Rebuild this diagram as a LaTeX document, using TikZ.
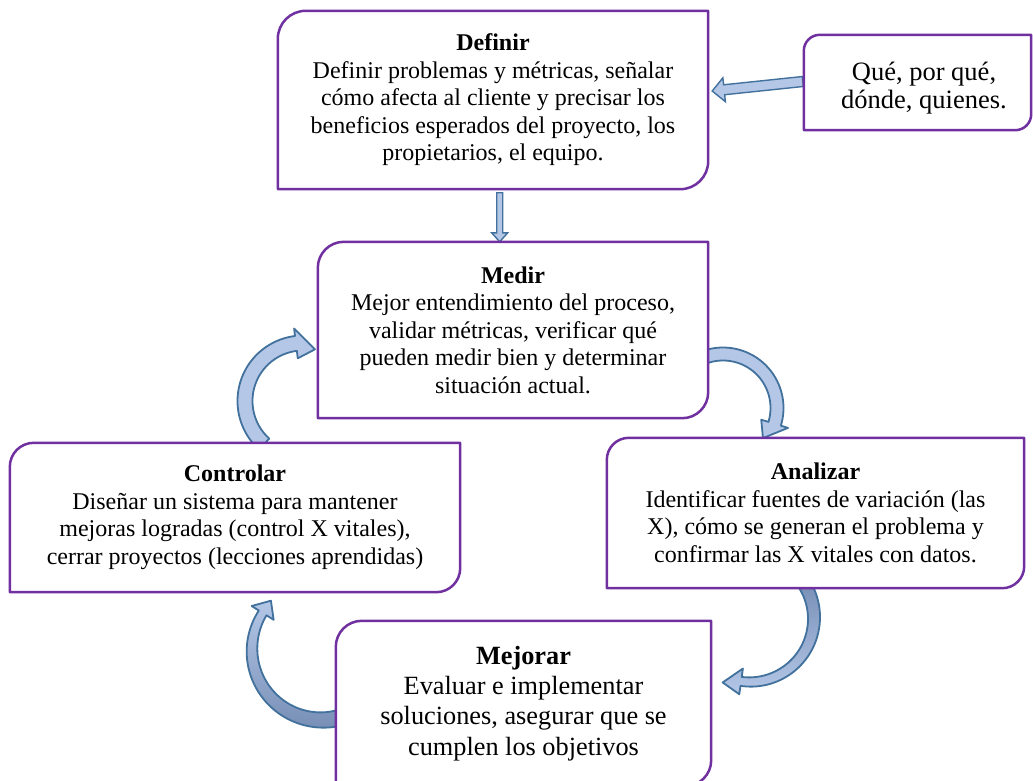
\documentclass[tikz,border=0pt]{standalone}
\usepackage{fontspec}
\setmainfont{Liberation Serif}
\usetikzlibrary{calc}
\definecolor{boxpurple}{RGB}{112,48,160}
\definecolor{arrfill}{RGB}{180,199,231}
\definecolor{arrdark}{RGB}{120,143,182}
\definecolor{arrline}{RGB}{65,113,156}
\pgfdeclarelayer{arrowlayer}
\pgfdeclarelayer{framelayer}
\pgfsetlayers{arrowlayer,framelayer,main}
\tikzset{
  txt/.style={align=center, inner sep=0pt, font=\fontsize{24}{27.5}\selectfont},
  bigtxt/.style={align=center, inner sep=0pt, font=\fontsize{26.3}{30.3}\selectfont},
  boxline/.style={draw=boxpurple, line width=2.5pt, fill=white, line join=round},
  carrow/.style={draw=arrline, fill=arrfill, line width=1.8pt, line join=round},
  sarrow/.style={draw=arrline, fill=arrfill, line width=1.4pt, line join=miter},
}
% frame with rounded top-left and bottom-right corners
\newcommand\dframe[2]{%
  \draw[boxline] (#1.south west) -- ([yshift=-#2pt]#1.north west)
    arc[start angle=180,end angle=90,radius=#2pt] -- (#1.north east)
    -- ([yshift=#2pt]#1.south east)
    arc[start angle=0,end angle=-90,radius=#2pt] -- cycle;}
% straight block arrow: from, to, half shaft, half head, head length
\newcommand\sblock[5]{%
  \coordinate (hb) at ($(#2)!#5pt!(#1)$);
  \draw[sarrow] ($(#1)!#3pt!90:(#2)$) -- ($(hb)!#3pt!90:(#2)$) -- ($(hb)!#4pt!90:(#2)$)
    -- (#2) -- ($(hb)!#4pt!-90:(#2)$) -- ($(hb)!#3pt!-90:(#2)$) -- ($(#1)!#3pt!-90:(#2)$) -- cycle;}
% curved block arrow: cx, cy, R, tail angle, head base angle, tip angle, w tail, w head base, head width
\def\tipdr{0}
\newcommand\blockarc[9]{%
  \path[carrow] plot[domain=#4:#5, samples=50]
     ({#1+(#3+(#7+(#8-(#7))*(\x-(#4))/(#5-(#4)))/2)*cos(\x)},{#2+(#3+(#7+(#8-(#7))*(\x-(#4))/(#5-(#4)))/2)*sin(\x)})
   -- ({#1+(#3+#9/2)*cos(#5)},{#2+(#3+#9/2)*sin(#5)})
   -- ({#1+(#3+\tipdr)*cos(#6)},{#2+(#3+\tipdr)*sin(#6)})
   -- ({#1+(#3-#9/2)*cos(#5)},{#2+(#3-#9/2)*sin(#5)})
   -- plot[domain=#5:#4, samples=50]
     ({#1+(#3-(#7+(#8-(#7))*(\x-(#4))/(#5-(#4)))/2)*cos(\x)},{#2+(#3-(#7+(#8-(#7))*(\x-(#4))/(#5-(#4)))/2)*sin(\x)})
   -- cycle;}
\begin{document}
\begin{tikzpicture}[x=1pt,y=-1pt]
\useasboundingbox (0,0) rectangle (1033,780);

\node[txt, minimum width=430, minimum height=178] (def) at (493,100)
  {\textbf{Definir}\\Definir problemas y métricas, señalar\\cómo afecta al cliente y precisar los\\beneficios esperados del proyecto, los\\propietarios, el equipo.};
\node[inner sep=0pt, minimum width=227, minimum height=95] (que) at (917.5,82.5) {};
\node[txt, font=\fontsize{26.5}{28.5}\selectfont] (quetxt) at (924,88) {Qué, por qué,\\dónde, quienes.};
\node[txt, minimum width=390, minimum height=176] (med) at (513,330)
  {\textbf{Medir}\\Mejor entendimiento del proceso,\\validar métricas, verificar qué\\pueden medir bien y determinar\\situación actual.};
\node[txt, minimum width=450, minimum height=149] (con) at (235,517.5)
  {\textbf{Controlar}\\Diseñar un sistema para mantener\\mejoras logradas (control X vitales),\\cerrar proyectos (lecciones aprendidas)};
\node[txt, minimum width=417, minimum height=150] (ana) at (815.5,513)
  {\textbf{Analizar}\\Identificar fuentes de variación (las\\X), cómo se generan el problema y\\confirmar las X vitales con datos.};
\node[bigtxt, minimum width=375, minimum height=165] (mej) at (523.5,703.5)
  {\textbf{Mejorar}\\Evaluar e implementar\\soluciones, asegurar que se\\cumplen los objetivos};

\begin{pgfonlayer}{framelayer}
  \dframe{def}{28}
  \dframe{que}{16}
  \dframe{med}{26}
  \dframe{con}{24}
  \dframe{ana}{22}
  \dframe{mej}{26}
\end{pgfonlayer}

\begin{pgfonlayer}{arrowlayer}
  % Definir -> Medir
  \coordinate (d0) at ($(def.south)+(6.7,3.5)$);
  \coordinate (d1) at (d0 |- med.north);
  \sblock{d0}{d1}{3}{8}{9}
  % Que -> Definir
  \coordinate (l0) at ($(que.west)+(-1,-1)$);
  \coordinate (l1) at ($(def.east)+(4,-9)$);
  \sblock{l0}{l1}{5}{12}{12}
  % Medir -> Analizar
  \def\tipdr{-4}
  \blockarc{723}{408}{54}{-108}{17}{37}{13}{13}{28}
  % Controlar -> Medir
  \def\tipdr{-5}
  \blockarc{303}{401}{58}{132}{263}{283}{15}{15}{30}
  % Analizar -> Mejorar
  \def\tipdr{6}
  \begin{scope}[carrow/.append style={top color=arrdark, bottom color=arrfill}]
    \blockarc{750}{618}{64}{-32}{98}{113}{13}{9}{26}
  \end{scope}
  % Mejorar -> Controlar
  \def\tipdr{1}
  \begin{scope}[carrow/.append style={top color=arrfill, bottom color=arrdark}]
    \blockarc{322}{650}{70}{76}{212}{224}{16}{9}{26}
  \end{scope}
\end{pgfonlayer}
\end{tikzpicture}
\end{document}
